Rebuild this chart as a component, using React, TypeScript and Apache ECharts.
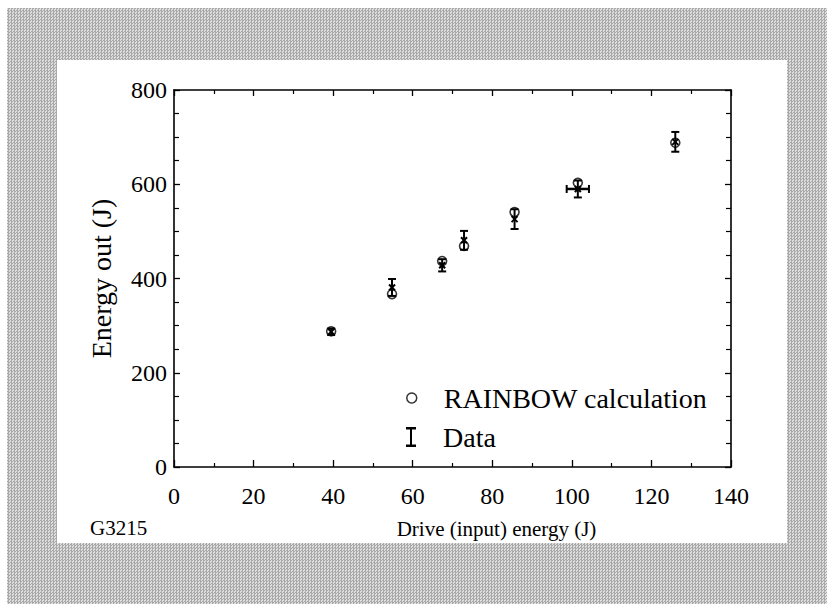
import React, { useEffect, useRef } from "react";
import * as echarts from "echarts";

// ---- data ----
const driveEnergy = [39.5, 54.8, 67.4, 72.9, 85.6, 101.5, 126.0]; // J (input)
const rainbowCalc = [288, 367, 437, 469, 541, 603, 688]; // J out, RAINBOW calculation
const measuredOut = [287, 381, 428, 481, 526, 590, 690]; // J out, data
const measuredErr = [7, 18, 13, 20, 21, 18, 21]; // +/- J out
const driveErr = [0, 0, 0, 0, 0, 2.8, 0]; // +/- J in

const xTickValues = [0, 20, 40, 60, 80, 100, 120, 140];
const yTickValues = [0, 200, 400, 600, 800];

const seriesNames = ["RAINBOW calculation", "Data"];
const xTitle = "Drive (input) energy (J)";
const yTitle = "Energy out (J)";
const figureId = "G3215";

const FONT = "Liberation Serif";

export default function App() {
  const ref = useRef<HTMLDivElement>(null);

  useEffect(() => {
    if (!ref.current) return;
    const chart = echarts.init(ref.current, undefined, { renderer: "svg" });

    const xStep = xTickValues[1] - xTickValues[0];
    const yStep = yTickValues[1] - yTickValues[0];
    const xMin = xTickValues[0];
    const xMax = xTickValues[xTickValues.length - 1];
    const yMin = yTickValues[0];
    const yMax = yTickValues[yTickValues.length - 1];

    const calcData = driveEnergy.map((x, i) => [x, rainbowCalc[i]]);
    const errData = driveEnergy.map((x, i) => [x, measuredOut[i], measuredErr[i], driveErr[i]]);

    const axisCommon = {
      axisLine: { show: true, onZero: false, lineStyle: { color: "#000", width: 1.6 } },
      splitLine: { show: false },
    };

    const legendText = {
      color: "#000",
      fontFamily: FONT,
      fontSize: 28,
      lineHeight: 28,
      padding: [0, 0, 0, 22],
    };

    const option: any = {
      animation: false,
      backgroundColor: "transparent",
      textStyle: { fontFamily: FONT },
      grid: { left: 174, right: 96, top: 90, bottom: 137 },
      xAxis: [
        {
          ...axisCommon,
          type: "value",
          position: "bottom",
          min: xMin,
          max: xMax,
          interval: xStep,
          axisTick: { show: true, inside: true, length: 7, lineStyle: { color: "#000", width: 1.3 } },
          minorTick: { show: true, splitNumber: 2, length: 4, lineStyle: { color: "#000", width: 1.2 } },
          axisLabel: { show: true, color: "#000", fontFamily: FONT, fontSize: 24, margin: 17 },
          name: xTitle,
          nameLocation: "middle",
          nameGap: 51,
          nameTextStyle: { color: "#000", fontFamily: FONT, fontSize: 21, padding: [0, 0, 0, 88] },
        },
        {
          ...axisCommon,
          type: "value",
          position: "top",
          min: xMin,
          max: xMax,
          interval: xStep,
          axisTick: { show: true, inside: true, length: 6, lineStyle: { color: "#000", width: 1.3 } },
          minorTick: { show: true, splitNumber: 2, length: 4, lineStyle: { color: "#000", width: 1.2 } },
          axisLabel: { show: false },
        },
      ],
      yAxis: [
        {
          ...axisCommon,
          type: "value",
          position: "left",
          min: yMin,
          max: yMax,
          interval: yStep,
          axisTick: { show: true, inside: true, length: 6, lineStyle: { color: "#000", width: 1.3 } },
          minorTick: { show: true, splitNumber: 4, length: 5, lineStyle: { color: "#000", width: 1.2 } },
          axisLabel: { show: true, color: "#000", fontFamily: FONT, fontSize: 24, margin: 7 },
          name: yTitle,
          nameLocation: "middle",
          nameGap: 59,
          nameRotate: 90,
          nameTextStyle: { color: "#000", fontFamily: FONT, fontSize: 28 },
        },
        {
          ...axisCommon,
          type: "value",
          position: "right",
          min: yMin,
          max: yMax,
          interval: yStep,
          axisTick: { show: true, inside: true, length: 6, lineStyle: { color: "#000", width: 1.3 } },
          minorTick: { show: true, splitNumber: 4, length: 5, lineStyle: { color: "#000", width: 1.2 } },
          axisLabel: { show: false },
        },
      ],
      legend: [
        {
          data: [
            {
              name: seriesNames[0],
              icon: "circle",
              itemStyle: { color: "rgba(0,0,0,0)", borderColor: "#000", borderWidth: 1.5 },
              textStyle: legendText,
            },
          ],
          left: 406,
          top: 384,
          padding: 0,
          orient: "vertical",
          itemWidth: 10,
          itemHeight: 10,
          selectedMode: false,
          textStyle: legendText,
        },
        {
          data: [
            {
              name: seriesNames[1],
              icon: "path://M0,0 H10 V2.4 H6 V17.6 H10 V20 H0 V17.6 H4 V2.4 H0 Z",
              itemStyle: { color: "#000" },
              textStyle: legendText,
            },
          ],
          left: 406,
          top: 423,
          padding: 0,
          orient: "vertical",
          itemWidth: 10,
          itemHeight: 28,
          selectedMode: false,
          textStyle: legendText,
        },
      ],
      graphic: [
        {
          type: "text",
          left: 90,
          top: 517,
          style: { text: figureId, fill: "#000", fontFamily: FONT, fontSize: 21 },
        },
      ],
      series: [
        {
          name: seriesNames[1],
          type: "custom",
          xAxisIndex: 0,
          yAxisIndex: 0,
          itemStyle: { color: "#000" },
          z: 2,
          data: errData,
          renderItem: (params: any, api: any) => {
            const x = api.value(0);
            const y = api.value(1);
            const e = api.value(2);
            const xe = api.value(3);
            const c = api.coord([x, y]);
            const top = api.coord([x, y + e]);
            const bot = api.coord([x, y - e]);
            const st = { stroke: "#000", lineWidth: 2 };
            const cap = 4;
            const children: any[] = [
              { type: "line", shape: { x1: c[0], y1: top[1], x2: c[0], y2: bot[1] }, style: st },
              { type: "line", shape: { x1: c[0] - cap, y1: top[1], x2: c[0] + cap, y2: top[1] }, style: st },
              { type: "line", shape: { x1: c[0] - cap, y1: bot[1], x2: c[0] + cap, y2: bot[1] }, style: st },
              { type: "line", shape: { x1: c[0] - 3, y1: c[1] - 3, x2: c[0] + 3, y2: c[1] + 3 }, style: st },
              { type: "line", shape: { x1: c[0] - 3, y1: c[1] + 3, x2: c[0] + 3, y2: c[1] - 3 }, style: st },
            ];
            if (xe > 0) {
              const l = api.coord([x - xe, y]);
              const r = api.coord([x + xe, y]);
              children.push(
                { type: "line", shape: { x1: l[0], y1: c[1], x2: r[0], y2: c[1] }, style: { stroke: "#000", lineWidth: 2.5 } },
                { type: "line", shape: { x1: l[0], y1: c[1] - cap, x2: l[0], y2: c[1] + cap }, style: st },
                { type: "line", shape: { x1: r[0], y1: c[1] - cap, x2: r[0], y2: c[1] + cap }, style: st }
              );
            }
            return { type: "group", children };
          },
        },
        {
          name: seriesNames[0],
          type: "scatter",
          xAxisIndex: 0,
          yAxisIndex: 0,
          symbol: "circle",
          symbolSize: 9,
          z: 3,
          itemStyle: { color: "rgba(0,0,0,0)", borderColor: "#000", borderWidth: 1.6 },
          data: calcData,
        },
      ],
    };

    chart.setOption(option);
    return () => chart.dispose();
  }, []);

  return (
    <div
      style={{
        position: "fixed",
        left: 0,
        top: 0,
        width: 827,
        height: 604,
        background: "#ffffff",
        overflow: "hidden",
      }}
    >
      <div
        style={{
          position: "absolute",
          left: 7,
          top: 8,
          right: 0,
          bottom: 0,
          backgroundColor: "#c4c4c4",
          backgroundImage: "repeating-conic-gradient(#a9a9a9 0 25%, #dedede 0 50%)",
          backgroundSize: "3px 3px",
        }}
      />
      <div
        style={{
          position: "absolute",
          left: 57,
          top: 60,
          width: 730,
          height: 483,
          background: "#ffffff",
        }}
      />
      <div ref={ref} style={{ position: "absolute", left: 0, top: 0, width: 827, height: 604 }} />
    </div>
  );
}
